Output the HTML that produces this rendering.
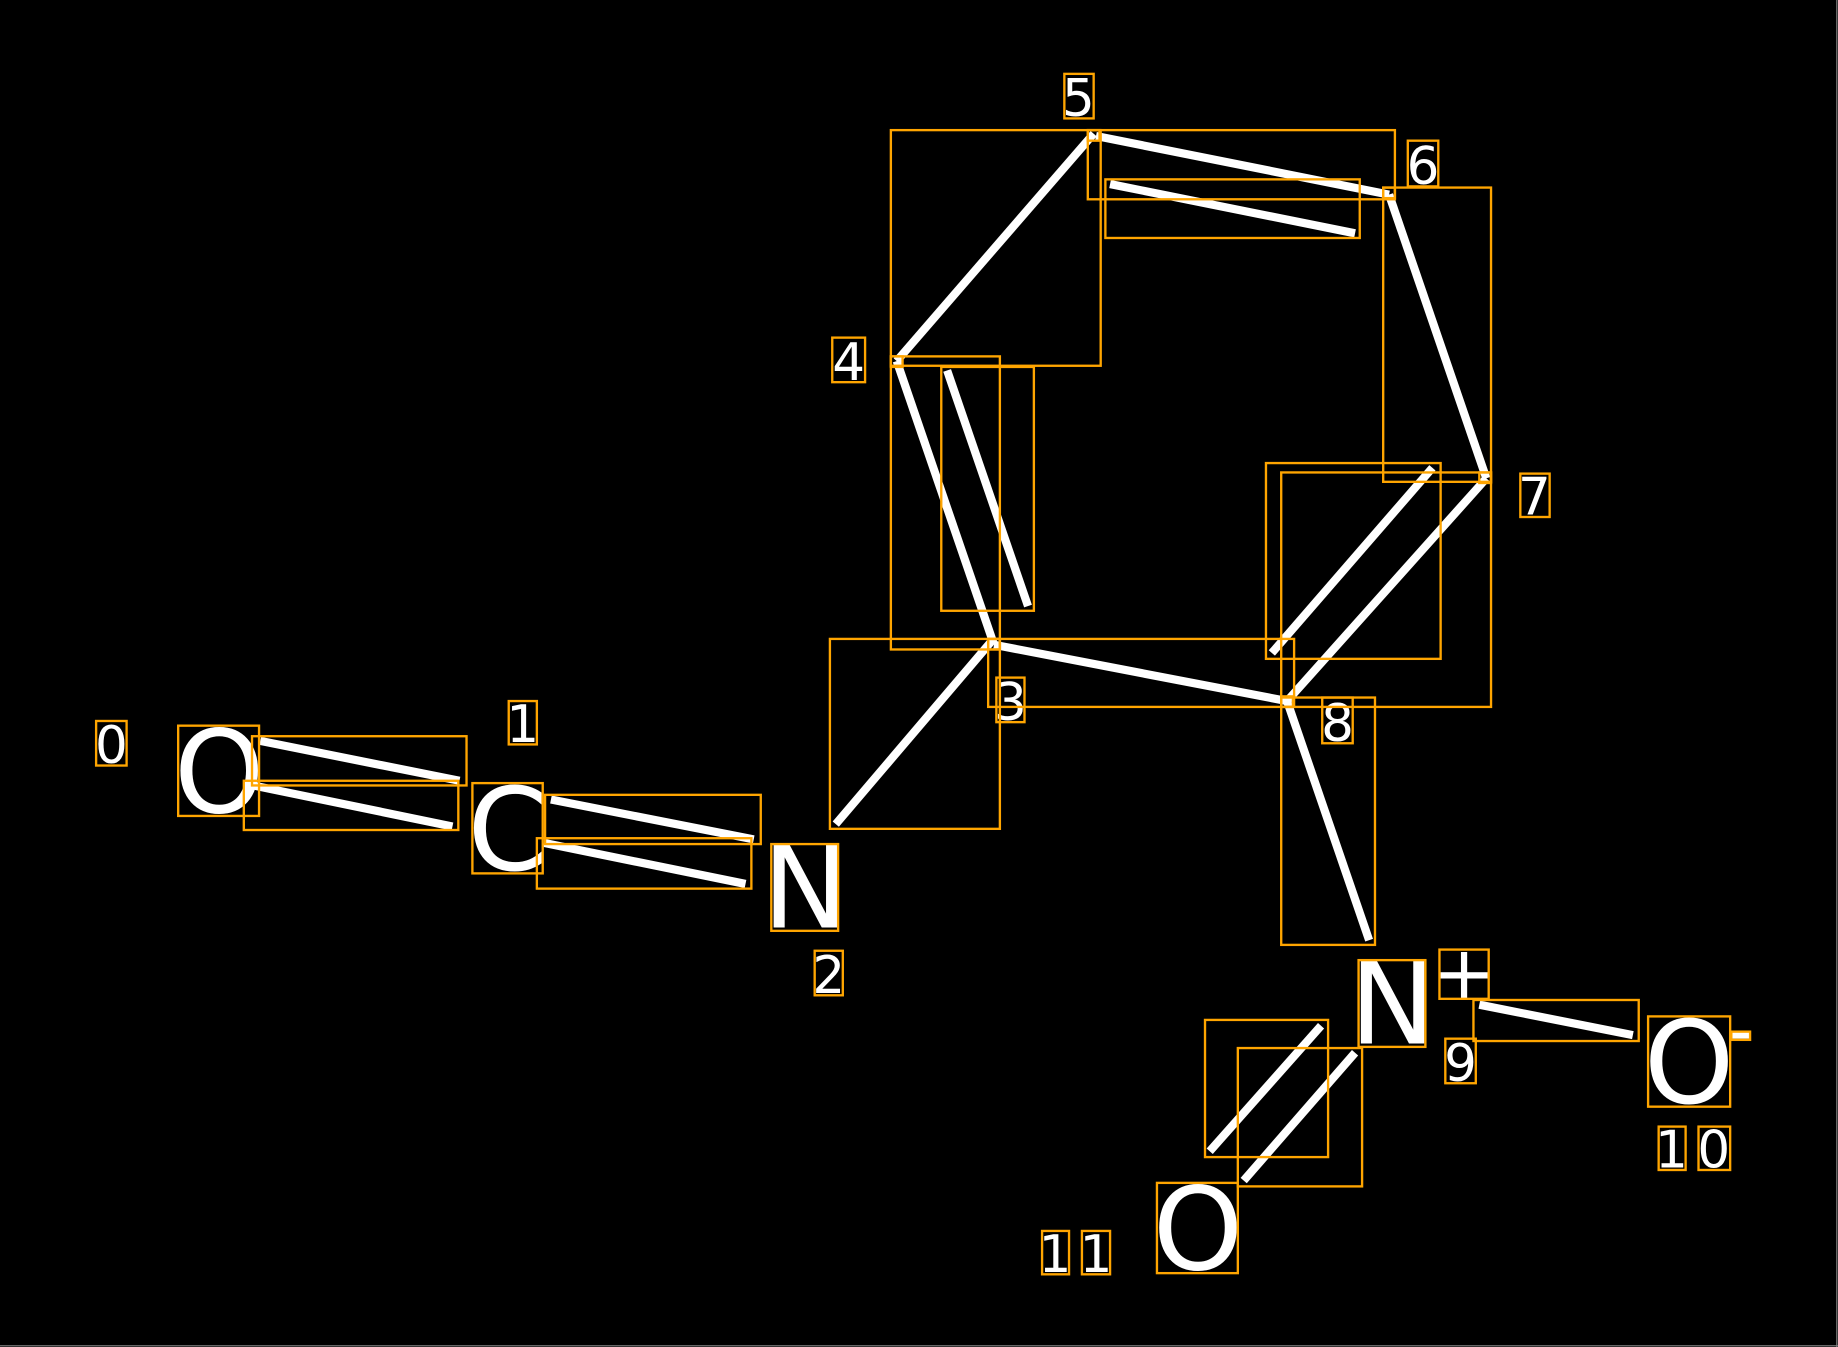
<!DOCTYPE html>
<html><head><meta charset="utf-8"><style>
html,body{margin:0;padding:0;background:#000;}
svg{display:block;}
text{font-family:"DejaVu Sans","Liberation Sans",sans-serif;fill:#fff;}
</style></head><body>
<svg width="1838" height="1347" viewBox="0 0 1568 1149" preserveAspectRatio="none" xmlns="http://www.w3.org/2000/svg">
<rect x="0" y="0" width="1568" height="1149" fill="#000"/>
<line x1="1567" y1="0" x2="1567" y2="1149" stroke="#888" stroke-width="1"/>
<line x1="0" y1="1148" x2="1568" y2="1148" stroke="#888" stroke-width="1"/>
<g stroke="#fff" stroke-width="7" stroke-linecap="butt">
<line x1="222" y1="632" x2="392" y2="666"/>
<line x1="216" y1="670" x2="386" y2="705"/>
<line x1="470" y1="682" x2="643" y2="716"/>
<line x1="464" y1="719" x2="636" y2="754"/>
<line x1="713" y1="703" x2="845" y2="548"/>
<line x1="848" y1="550" x2="765" y2="308"/>
<line x1="808" y1="316" x2="877" y2="517"/>
<line x1="765" y1="308" x2="933" y2="114"/>
<line x1="935" y1="116" x2="1185" y2="166"/>
<line x1="947" y1="157" x2="1156" y2="199"/>
<line x1="1185" y1="166" x2="1268" y2="408"/>
<line x1="1268" y1="408" x2="1098" y2="598"/>
<line x1="1222" y1="399" x2="1085" y2="557"/>
<line x1="848" y1="550" x2="1098" y2="598"/>
<line x1="1098" y1="598" x2="1168" y2="802"/>
<line x1="1127" y1="875" x2="1032" y2="982"/>
<line x1="1156" y1="898" x2="1061" y2="1007"/>
<line x1="1262" y1="857" x2="1393" y2="883"/>
</g>
<g fill="#fff" font-size="98">
<text x="187" y="693" text-anchor="middle">O</text>
<text x="433" y="742" text-anchor="middle">C</text>
<text x="687" y="791" text-anchor="middle">N</text>
<text x="1188" y="890" text-anchor="middle">N</text>
<text x="1441" y="941" text-anchor="middle">O</text>
<text x="1022" y="1083" text-anchor="middle">O</text>
</g>
<g font-size="64"><text x="1249" y="852" text-anchor="middle">+</text></g>
<rect x="1477" y="880" width="16" height="6" fill="#fff"/>
<g font-size="44" text-anchor="middle">
<text x="95" y="651">0</text>
<text x="446" y="633">1</text>
<text x="707" y="847">2</text>
<text x="862" y="614">3</text>
<text x="724" y="324">4</text>
<text x="920" y="99">5</text>
<text x="1214" y="157">6</text>
<text x="1309" y="439">7</text>
<text x="1141" y="632">8</text>
<text x="1246" y="922">9</text>
<text x="1426" y="996">1</text>
<text x="1462" y="996">0</text>
<text x="900" y="1085">1</text>
<text x="935" y="1085">1</text>
</g>
<g fill="none" stroke="#FFA500" stroke-width="2">
<rect x="82" y="615" width="26" height="38"/>
<rect x="152" y="619" width="69" height="77"/>
<rect x="215" y="628" width="183" height="42"/>
<rect x="208" y="666" width="183" height="42"/>
<rect x="434" y="598" width="24" height="37"/>
<rect x="403" y="668" width="60" height="77"/>
<rect x="465" y="678" width="184" height="42"/>
<rect x="458" y="715" width="183" height="43"/>
<rect x="658" y="720" width="57" height="74"/>
<rect x="695" y="811" width="24" height="38"/>
<rect x="708" y="545" width="145" height="162"/>
<rect x="850" y="578" width="24" height="38"/>
<rect x="760" y="304" width="93" height="250"/>
<rect x="803" y="313" width="79" height="208"/>
<rect x="710" y="288" width="28" height="38"/>
<rect x="760" y="111" width="179" height="201"/>
<rect x="908" y="63" width="25" height="38"/>
<rect x="928" y="111" width="262" height="59"/>
<rect x="943" y="153" width="217" height="50"/>
<rect x="1201" y="120" width="26" height="39"/>
<rect x="1180" y="160" width="92" height="251"/>
<rect x="1297" y="404" width="25" height="37"/>
<rect x="1080" y="395" width="149" height="167"/>
<rect x="1093" y="403" width="179" height="200"/>
<rect x="843" y="545" width="261" height="58"/>
<rect x="1128" y="595" width="26" height="39"/>
<rect x="1093" y="595" width="80" height="211"/>
<rect x="1159" y="819" width="57" height="74"/>
<rect x="1228" y="810" width="42" height="42"/>
<rect x="1233" y="886" width="26" height="38"/>
<rect x="1257" y="853" width="141" height="35"/>
<rect x="1406" y="867" width="70" height="77"/>
<rect x="1477" y="880" width="16" height="7"/>
<rect x="1415" y="961" width="23" height="37"/>
<rect x="1449" y="961" width="27" height="37"/>
<rect x="1028" y="870" width="105" height="117"/>
<rect x="1056" y="894" width="106" height="118"/>
<rect x="987" y="1009" width="69" height="77"/>
<rect x="889" y="1050" width="23" height="37"/>
<rect x="923" y="1050" width="24" height="37"/>
<rect x="843" y="545" width="10" height="9"/>
<rect x="1093" y="594" width="10" height="9"/>
<rect x="760" y="304" width="10" height="9"/>
<rect x="928" y="111" width="10" height="9"/>
<rect x="1180" y="160" width="10" height="9"/>
<rect x="1262" y="403" width="10" height="9"/>
</g>
</svg>
</body></html>
